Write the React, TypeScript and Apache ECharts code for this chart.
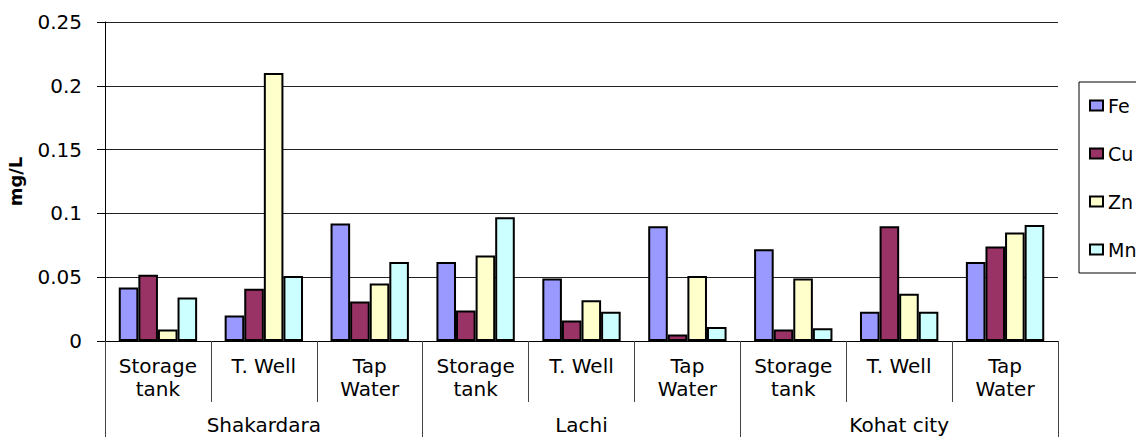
import React, { useEffect, useRef } from "react";
import * as echarts from "echarts";

const sites = [
  "Storage\ntank", "T. Well", "Tap\nWater",
  "Storage\ntank", "T. Well", "Tap\nWater",
  "Storage\ntank", "T. Well", "Tap\nWater",
];
const regions = ["Shakardara", "Lachi", "Kohat city"];
const metals = ["Fe", "Cu", "Zn", "Mn"];
const fe = [0.042, 0.020, 0.092, 0.062, 0.049, 0.090, 0.072, 0.023, 0.062];
const cu = [0.052, 0.041, 0.031, 0.024, 0.016, 0.005, 0.009, 0.090, 0.074];
const zn = [0.009, 0.210, 0.045, 0.067, 0.032, 0.051, 0.049, 0.037, 0.085];
const mn = [0.034, 0.051, 0.062, 0.097, 0.023, 0.011, 0.010, 0.023, 0.091];
const colors = ["#9999FF", "#993366", "#FFFFCC", "#CCFFFF"];
const yMin = 0;
const yMax = 0.25;
const yStep = 0.05;

const FONT = "DejaVu Sans";

export default function App() {
  const ref = useRef<HTMLDivElement>(null);
  useEffect(() => {
    if (!ref.current) return;
    const chart = echarts.init(ref.current, null, { renderer: "svg" });
    const values = [fe, cu, zn, mn];
    chart.setOption({
      animation: false,
      textStyle: { fontFamily: FONT, color: "#000" },
      grid: {
        left: 105,
        right: 78,
        top: 22,
        bottom: 96,
        containLabel: false,
        outerBoundsMode: "none",
      },
      legend: {
        orient: "vertical",
        left: 1079,
        top: 82,
        padding: [14, 10, 14, 10],
        itemGap: 29,
        itemWidth: 13,
        itemHeight: 10,
        itemTextGap: 3,
        borderColor: "#000",
        borderWidth: 1,
        icon: "rect",
        data: metals,
        textStyle: { fontFamily: FONT, fontSize: 19, color: "#000" },
      },
      xAxis: [
        {
          type: "category",
          data: sites,
          position: "bottom",
          axisLine: { show: true, lineStyle: { color: "#000", width: 1 } },
          axisTick: { show: true, length: 61, lineStyle: { color: "#444", width: 1 } },
          axisLabel: {
            interval: 0,
            margin: 13,
            fontFamily: FONT,
            fontSize: 20,
            lineHeight: 23,
            color: "#000",
          },
          splitLine: { show: false },
        },
        {
          type: "category",
          data: regions,
          position: "bottom",
          gridIndex: 0,
          axisLine: { show: false },
          axisTick: { show: true, length: 96, lineStyle: { color: "#444", width: 1 } },
          axisLabel: {
            interval: 0,
            margin: 74,
            fontFamily: FONT,
            fontSize: 20,
            color: "#000",
          },
          splitLine: { show: false },
        },
      ],
      yAxis: {
        type: "value",
        min: yMin,
        max: yMax,
        interval: yStep,
        name: "mg/L",
        nameLocation: "middle",
        nameGap: 81,
        nameTextStyle: { fontFamily: FONT, fontSize: 18, fontWeight: "bold", color: "#000" },
        axisLine: { show: true, lineStyle: { color: "#000", width: 1 } },
        axisTick: { show: true, length: 8, lineStyle: { color: "#000" } },
        axisLabel: { margin: 23, fontFamily: FONT, fontSize: 20, color: "#000" },
        splitLine: { show: true, lineStyle: { color: "#222", width: 1 } },
      },
      series: metals.map((m, i) => ({
        name: m,
        type: "bar",
        xAxisIndex: 0,
        data: values[i],
        barGap: "0%",
        barCategoryGap: "26%",
        itemStyle: { color: colors[i], borderColor: "#000", borderWidth: 2 },
      })),
    });
    return () => chart.dispose();
  }, []);
  return (
    <div
      ref={ref}
      style={{ position: "fixed", left: 0, top: 0, width: 1136, height: 437, background: "#fff" }}
    />
  );
}
